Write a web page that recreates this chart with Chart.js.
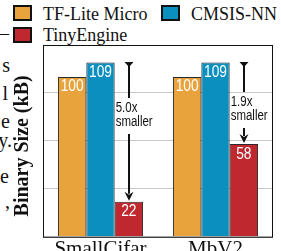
<!DOCTYPE html>
<html>
<head>
<meta charset="utf-8">
<script src="https://cdn.jsdelivr.net/npm/chart.js@4"></script>
<style>
	html, body { margin: 0; padding: 0; background: #fff; overflow: hidden; }
	#wrap { position: relative; width: 281px; height: 251px; overflow: hidden; }
	#box { position: absolute; left: 0; top: 0; width: 281px; height: 262px; }
	.lg { position: absolute; font: 18px/18px "Liberation Serif", serif; color: #111; white-space: nowrap; }
	.sw { position: absolute; box-sizing: border-box; border: 2px solid #111; }
	.frag { position: absolute; font: 20px/20px "Liberation Serif", serif; color: #111; white-space: nowrap; text-align: right; }
</style>
</head>
<body>
<div id="wrap">
	<div class="frag" style="right:272px;top:23px">–</div>
	<div class="frag" style="right:271px;top:55px">s</div>
	<div class="frag" style="right:273px;top:83px">l</div>
	<div class="frag" style="right:271px;top:111px">e</div>
	<div class="frag" style="right:269px;top:130px">y.</div>
	<div class="frag" style="right:272px;top:166px">e</div>
	<div class="frag" style="right:271px;top:191px">,</div>
	<div id="legend"></div>
	<div id="box"><canvas id="sizeChart"></canvas></div>
</div>
<script>
// values (kB)
const categories = ['SmallCifar', 'MbV2'];
const seriesNames = ['TF-Lite Micro', 'CMSIS-NN', 'TinyEngine'];
const tfliteMicro = [100, 100];
const cmsisNN = [109, 109];
const tinyEngine = [22, 58];
const reductionLabels = ['5.0x', '1.9x'];
const yTicks = [0, 30, 60, 90, 120];

const seriesColors = ['#E8A33D', '#0A8FBF', '#C0282F'];

// legend drawn as html, it sits partly left of the plot
const legendSpots = [
	{ box: [13, 5], text: [43, 5] },
	{ box: [161, 5], text: [191, 5] },
	{ box: [13, 27], text: [43, 26] }
];
const legendEl = document.getElementById('legend');
seriesNames.forEach((name, i) => {
	const sw = document.createElement('div');
	sw.className = 'sw';
	sw.style.cssText = `left:${legendSpots[i].box[0]}px;top:${legendSpots[i].box[1]}px;width:19px;height:16px;background:${seriesColors[i]}`;
	legendEl.appendChild(sw);
	const txt = document.createElement('div');
	txt.className = 'lg';
	txt.style.left = legendSpots[i].text[0] + 'px';
	txt.style.top = legendSpots[i].text[1] + 'px';
	txt.textContent = name;
	legendEl.appendChild(txt);
});

// value labels inside the bars, text a bit condensed like the original
const barLabels = {
	id: 'barLabels',
	afterDatasetsDraw(chart) {
		const ctx = chart.ctx;
		ctx.save();
		ctx.fillStyle = '#fff';
		ctx.font = '16px "Liberation Sans", Arial, sans-serif';
		ctx.textAlign = 'center';
		ctx.textBaseline = 'top';
		chart.data.datasets.forEach((ds, d) => {
			chart.getDatasetMeta(d).data.forEach((bar, i) => {
				ctx.save();
				ctx.translate(bar.x, bar.y + 2);
				ctx.scale(0.86, 1);
				ctx.fillText(String(ds.data[i]), 0, 0);
				ctx.restore();
			});
		});
		ctx.restore();
	}
};

// frame + "x smaller" arrows
const textDrop = [41, 35];
const frameAndArrows = {
	id: 'frameAndArrows',
	afterDatasetsDraw(chart) {
		const ctx = chart.ctx;
		const a = chart.chartArea;
		const y = chart.scales.y;
		ctx.save();
		ctx.strokeStyle = '#111';
		ctx.lineWidth = 1;
		ctx.strokeRect(a.left + 0.5, a.top + 0.5, a.right - a.left - 1, a.bottom - a.top);

		const reds = chart.getDatasetMeta(2).data;
		reds.forEach((bar, i) => {
			const x = Math.round(bar.x);
			const capY = Math.round(y.getPixelForValue(cmsisNN[i]));
			const tipY = bar.y - 1;
			const textTop = capY + textDrop[i];
			const textLeft = bar.x - bar.width / 2 + 1;

			ctx.strokeStyle = '#111';
			ctx.fillStyle = '#111';
			ctx.lineWidth = 2;
			ctx.beginPath();
			ctx.moveTo(x, capY);
			ctx.lineTo(x, textTop - 6);
			ctx.moveTo(x, textTop + 30);
			ctx.lineTo(x, tipY - 7);
			ctx.stroke();
			// cap
			ctx.beginPath();
			ctx.moveTo(x - 4.5, capY - 1);
			ctx.lineTo(x + 4.5, capY - 1);
			ctx.lineTo(x, capY + 4);
			ctx.closePath();
			ctx.fill();
			// head
			ctx.beginPath();
			ctx.moveTo(x - 4.5, tipY - 9);
			ctx.lineTo(x, tipY - 6);
			ctx.lineTo(x + 4.5, tipY - 9);
			ctx.lineTo(x, tipY);
			ctx.closePath();
			ctx.fill();

			ctx.font = '14px "Liberation Sans", Arial, sans-serif';
			ctx.textAlign = 'left';
			ctx.textBaseline = 'top';
			ctx.save();
			ctx.translate(textLeft, textTop - 3);
			ctx.scale(0.82, 1);
			ctx.fillText(reductionLabels[i], 0, 0);
			ctx.fillText('smaller', 0, 14);
			ctx.restore();
		});
		ctx.restore();
	}
};

const chart = new Chart(document.getElementById('sizeChart'), {
	type: 'bar',
	data: {
		labels: categories,
		datasets: [tfliteMicro, cmsisNN, tinyEngine].map((vals, i) => ({
			label: seriesNames[i],
			data: vals,
			backgroundColor: seriesColors[i],
			borderColor: '#2a2a2a',
			borderWidth: 1,
			categoryPercentage: 0.74,
			barPercentage: 1.0
		}))
	},
	options: {
		responsive: true,
		maintainAspectRatio: false,
		animation: false,
		layout: { padding: { left: 11, right: 8, top: 45, bottom: 0 } },
		plugins: {
			legend: { display: false },
			tooltip: { enabled: false }
		},
		scales: {
			x: {
				grid: { display: false, drawTicks: false },
				border: { display: false },
				ticks: {
					color: '#111',
					padding: 0,
					font: { family: 'Liberation Serif', size: 21 }
				}
			},
			y: {
				min: 0,
				max: 120,
				afterBuildTicks: axis => { axis.ticks = yTicks.map(v => ({ value: v })); },
				ticks: { display: false },
				grid: { color: '#c8c8c8', drawTicks: false },
				border: { display: false },
				title: {
					display: true,
					// trailing spaces nudge the title a little lower, as in the figure
					text: 'Binary Size (kB)  ',
					color: '#111',
					font: { family: 'Liberation Serif', size: 20, weight: 'bold' },
					padding: { top: 0, bottom: 8 }
				}
			}
		}
	},
	plugins: [barLabels, frameAndArrows]
});
</script>
</body>
</html>
